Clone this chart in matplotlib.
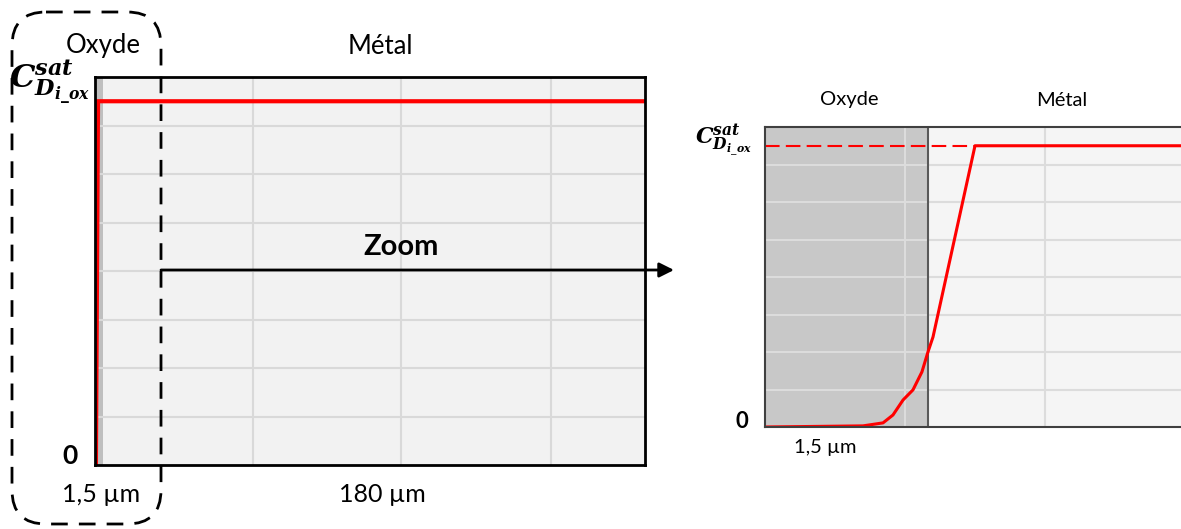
import matplotlib.pyplot as plt
from matplotlib.patches import FancyBboxPatch

plt.rcParams['font.family'] = ['Lato', 'DejaVu Sans']
plt.rcParams['mathtext.fontset'] = 'dejavuserif'

# ---------- data ----------
# left panel: full thickness (µm), concentration in grid units (0..8)
left_x = [0.3, 1.0, 182.0]
left_y = [0.0, 7.5, 7.5]
left_oxide = (0.0, 2.7)
left_xgrid = [52.3, 101.3, 151.0]

# right panel: zoom on the oxide/metal interface (arbitrary units)
zoom_x = [0.0, 0.70, 0.843, 0.914, 0.986, 1.057, 1.121, 1.164, 1.20, 1.50, 3.0]
zoom_y = [0.0, 0.03, 0.11, 0.32, 0.72, 0.99, 1.47, 2.0, 2.4, 7.5, 7.5]
zoom_oxide = (0.0, 1.164)
zoom_xgrid = [1.0, 2.0]
c_sat = 7.5

csat_label = r'$\mathbfit{C}_{\mathbfit{D}_{\mathbfit{i\_ox}}}^{\mathbfit{sat}}$'

W, H = 1181, 529
fig = plt.figure(figsize=(W / 100, H / 100), dpi=100)


def px_axes(x0, y0, x1, y1, **kw):
    return fig.add_axes([x0 / W, 1 - y1 / H, (x1 - x0) / W, (y1 - y0) / H], **kw)


# ---------- left panel ----------
ax1 = px_axes(95, 77, 645, 465)
ax1.set_facecolor('#f2f2f2')
ax1.set_xlim(0, 182)
ax1.set_ylim(0, 8)
ax1.set_xticks(left_xgrid)
ax1.set_yticks(range(1, 8))
ax1.set_xticklabels([])
ax1.set_yticklabels([])
ax1.tick_params(length=0)
ax1.set_axisbelow(True)
ax1.grid(True, color='#d9d9d9', lw=1.5)
ax1.axvspan(*left_oxide, color='#bfbfbf', zorder=0.2, lw=0)
ax1.plot(left_x, left_y, color='#ff0000', lw=3, solid_joinstyle='miter')
for s in ax1.spines.values():
    s.set_color('black')
    s.set_linewidth(2)

# ---------- right panel ----------
ax2 = px_axes(765, 127, 1185, 427)
ax2.set_facecolor('#f5f5f5')
ax2.set_xlim(0, 3.0)
ax2.set_ylim(0, 8)
ax2.set_xticks(zoom_xgrid)
ax2.set_yticks(range(1, 8))
ax2.set_xticklabels([])
ax2.set_yticklabels([])
ax2.tick_params(length=0)
ax2.set_axisbelow(True)
ax2.grid(True, color='#dcdcdc', lw=1.5)
ax2.axvspan(*zoom_oxide, color='#c8c8c8', zorder=0.2, lw=0)
ax2.axvline(zoom_oxide[1], color='#595959', lw=1.5)
ax2.plot([0, zoom_x[-2]], [c_sat, c_sat], color='#ff0000', lw=1.5, ls=(0, (7, 3)))
ax2.plot(zoom_x, zoom_y, color='#ff0000', lw=2.2)
for s in ax2.spines.values():
    s.set_color('#404040')
    s.set_linewidth(1.5)
ax2.spines['right'].set_visible(False)

# ---------- overlay (pixel coordinates) ----------
ov = fig.add_axes([0, 0, 1, 1], zorder=10)
ov.set_xlim(0, W)
ov.set_ylim(H, 0)
ov.axis('off')
ov.patch.set_alpha(0)

ov.add_patch(FancyBboxPatch((12, 12), 149, 512,
                            boxstyle='round,pad=0,rounding_size=34',
                            fill=False, ec='black', lw=2, ls=(0, (6, 4))))

ov.annotate('', xy=(674, 270), xytext=(161, 270),
            arrowprops=dict(arrowstyle='-|>', color='black', lw=2,
                            mutation_scale=22, shrinkA=0, shrinkB=0))
ov.text(401, 247, 'Zoom', fontsize=21, fontweight='bold', ha='center', va='center')

ov.text(103, 46, 'Oxyde', fontsize=18.5, ha='center', va='center')
ov.text(380, 46, 'Métal', fontsize=18.5, ha='center', va='center')
ov.text(70, 456, '0', fontsize=19, fontweight='bold', ha='center', va='center')
ov.text(101, 494, '1,5 µm', fontsize=18, ha='center', va='center')
ov.text(382, 495, '180 µm', fontsize=18, ha='center', va='center')
ov.text(9, 82, csat_label, fontsize=23, ha='left', va='center')

ov.text(849, 100, 'Oxyde', fontsize=14.5, ha='center', va='center')
ov.text(1062, 100, 'Métal', fontsize=14.5, ha='center', va='center')
ov.text(742, 422, '0', fontsize=16, fontweight='bold', ha='center', va='center')
ov.text(825, 448, '1,5 µm', fontsize=14.5, ha='center', va='center')
ov.text(695, 141, csat_label, fontsize=16, ha='left', va='center')

fig.savefig('out.png', dpi=100)
